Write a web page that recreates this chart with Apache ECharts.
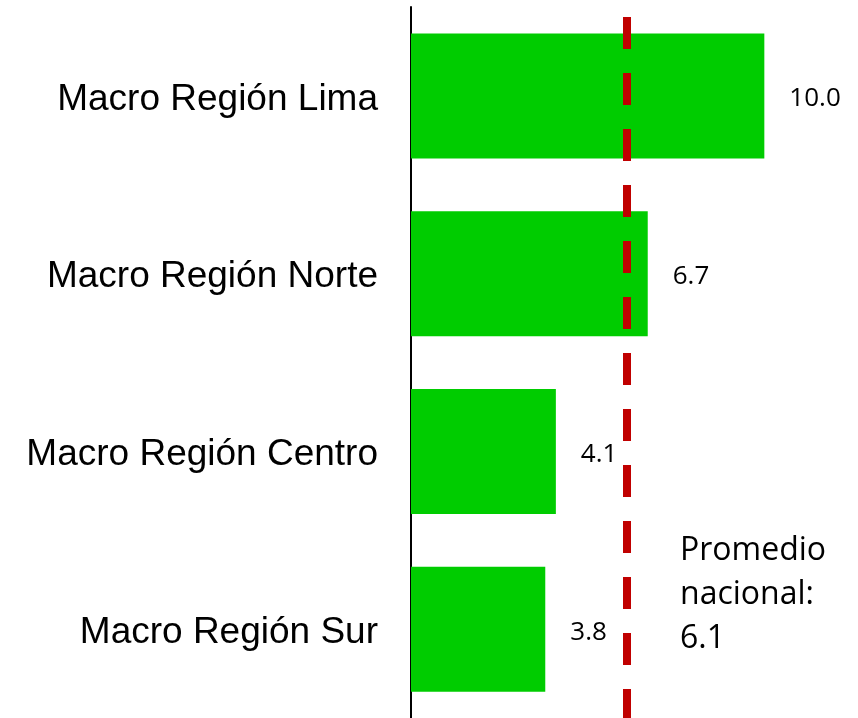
<!DOCTYPE html>
<html>
<head>
<meta charset="utf-8">
<script src="https://cdn.jsdelivr.net/npm/echarts@6/dist/echarts.min.js"></script>
<style>html,body{margin:0;padding:0;background:#fff}#c{width:858px;height:718px}</style>
</head>
<body>
<div id="c"></div>
<script>
const categories = ['Macro Región Lima', 'Macro Región Norte', 'Macro Región Centro', 'Macro Región Sur'];
const values = [10.0, 6.7, 4.1, 3.8];
const nationalAverage = 6.1;
const averageText = 'Promedio\nnacional:\n6.1';

const chart = echarts.init(document.getElementById('c'), null, {renderer: 'canvas'});
chart.setOption({
  animation: false,
  backgroundColor: '#ffffff',
  grid: {left: 411, right: 23, top: 7, bottom: 0, containLabel: false},
  xAxis: {type: 'value', min: 0, max: 12, show: false, splitLine: {show: false}},
  yAxis: {
    type: 'category', data: categories, inverse: true,
    axisLine: {show: true, lineStyle: {color: '#000', width: 2}},
    axisTick: {show: false},
    axisLabel: {
      margin: 33,
      formatter: v => '{a|' + v + '}',
      rich: {a: {color: '#000', fontFamily: 'Liberation Sans', fontSize: 37, padding: [7, 0, 0, 0]}}
    }
  },
  series: [{
    type: 'bar', data: values, barWidth: 125,
    itemStyle: {color: '#00CC00'},
    label: {show: true, position: 'right', distance: 25, offset: [0, 3], color: '#000',
      fontFamily: 'Open Sans', fontSize: 26, formatter: p => p.value.toFixed(1)},
    markLine: {
      silent: true, symbol: 'none',
      label: {show: false},
      lineStyle: {color: '#C00000', width: 8, type: [32, 24], dashOffset: 46},
      data: [{xAxis: nationalAverage}]
    }
  }],
  graphic: [{
    type: 'text', left: 680, top: 529,
    style: {text: averageText, fontFamily: 'Open Sans', fontSize: 32, lineHeight: 44, fill: '#000'}
  }]
});
</script>
</body>
</html>
